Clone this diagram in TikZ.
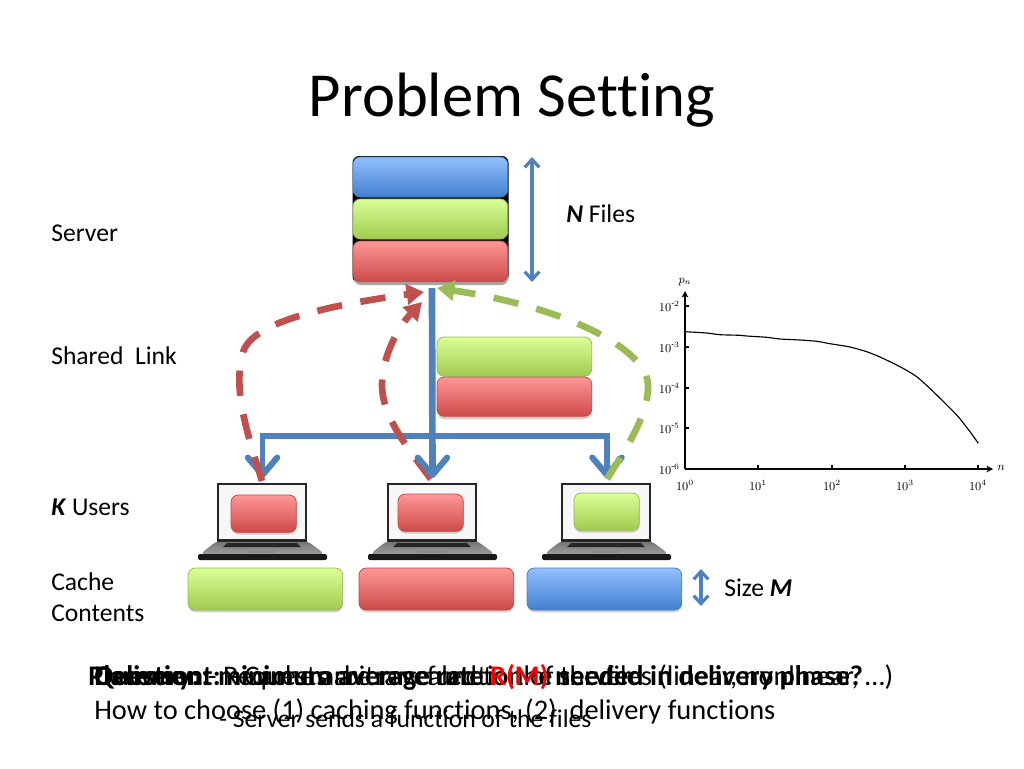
\documentclass[tikz,border=0pt]{standalone}
\usepackage{fontspec}
\setmainfont[Ligatures=NoCommon]{Carlito}
\usetikzlibrary{arrows.meta}
\definecolor{rbA}{HTML}{FF9797}\definecolor{rbB}{HTML}{CD4A48}\definecolor{rbL}{HTML}{BE4B48}
\definecolor{gbA}{HTML}{D9FF97}\definecolor{gbB}{HTML}{A0CB4E}\definecolor{gbL}{HTML}{98B954}
\definecolor{bbA}{HTML}{93BFFF}\definecolor{bbB}{HTML}{4180CF}\definecolor{bbL}{HTML}{4A7EBB}
\definecolor{linkB}{HTML}{4F81BD}\definecolor{dashR}{HTML}{C0504D}\definecolor{dashG}{HTML}{9BBB59}
\tikzset{
 x=0.75pt,y=-0.75pt,
 box/.style={rectangle,rounded corners=5.5pt,anchor=north west,inner sep=0pt,outer sep=0pt,line width=.6pt},
 redbox/.style={box,draw=rbL,top color=rbA,bottom color=rbB},
 greenbox/.style={box,draw=gbL,top color=gbA,bottom color=gbB},
 bluebox/.style={box,draw=bbL,top color=bbA,bottom color=bbB},
 shade/.style={rectangle,rounded corners=5.5pt,anchor=north west,inner sep=0pt,fill=black!30,opacity=.6},
 lab/.style={anchor=base west,inner sep=0pt,font=\fontsize{19.2}{22}\selectfont},
 bot/.style={anchor=base west,inner sep=0pt,font=\fontsize{21.3}{24}\selectfont},
 botsmall/.style={anchor=base west,inner sep=0pt,font=\fontsize{19.2}{22}\selectfont},
 tick/.style={inner sep=0pt,font=\fontsize{9}{10}\selectfont},
 link/.style={draw=linkB,line width=4.2pt},
 trunkline/.style={draw=linkB,line width=5pt},
 linkhead/.style={-{Straight Barb[length=13pt,width=22pt,line width=4.6pt,round]}},
 dashr/.style={draw=dashR,line width=5pt,dash pattern=on 19pt off 14pt,-{Triangle[length=13pt,width=15pt]}},
 dashg/.style={draw=dashG,line width=5pt,dash pattern=on 19pt off 14pt,-{Triangle[length=13pt,width=15pt]}},
 sized/.style={draw=linkB,line width=2.4pt,{Straight Barb[length=6pt,width=11pt,line width=2.4pt]}-{Straight Barb[length=6pt,width=11pt,line width=2.4pt]}},
 axis/.style={draw=black,line width=.9pt,-{Stealth[length=5pt,width=5pt]}},
 laptop/.pic={
  \shade[top color=black!80,bottom color=black!50] (0,56) -- (88,56) -- (108,71) -- (-19,71) -- cycle;
  \fill[black!85] (9,59) -- (79,59) -- (83,63) -- (5,63) -- cycle;
  \fill[black!90,rounded corners=1.5pt] (-20,70) rectangle (109,76);
  \fill[black!45] (30,65) rectangle (58,69);
  \draw[draw=black!85,fill=black!3,line width=2pt] (0,0) rectangle (88,56.5);
 }
}
\begin{document}
\begin{tikzpicture}
\useasboundingbox (0,0) rectangle (1024,768);
\fill[white] (0,0) rectangle (1024,768);
\node[anchor=base,inner sep=0pt,font=\fontsize{47}{50}\selectfont] (title) at (512,116) {Problem Setting};

% labels
\node[lab] (lserver) at (51,241) {Server};
\node[lab] (lshared) at (51,364) {Shared\ \ Link};
\node[lab] (lusers) at (51,515) {\textbf{\textit{K}} Users};
\node[lab] (lcache) at (51,590) {Cache};
\node[lab] (lcont) at (51,621) {Contents};
\node[lab] (lfiles) at (566,222) {\textbf{\textit{N}} Files};
\node[lab] (lsize) at (724,596) {Size \textbf{\textit{M}}};

% server stack
\fill[black,rounded corners=5pt] (352.5,156) rectangle (508.5,283);
\fill[black!35,rounded corners=5pt] (354,243) rectangle (508,285);
\node[bluebox,minimum width=116pt,minimum height=30pt] (sb) at (353,157) {};
\node[greenbox,minimum width=116pt,minimum height=30pt] (sg) at (353,199) {};
\node[redbox,minimum width=116pt,minimum height=30.5pt] (sr) at (353,241) {};
\coordinate (narrowt) at (532,157);\coordinate (narrowb) at (532,282);
\draw[sized] (narrowt) -- (narrowb);

% shared link
\node[shade,minimum width=116pt,minimum height=30pt] at (437,379) {};
\node[greenbox,minimum width=116pt,minimum height=29.5pt] (lg) at (437,337) {};
\node[redbox,minimum width=116pt,minimum height=29.5pt] (lr) at (437,377) {};

% laptops
\pic at (218,484) {laptop};
\pic at (388,484) {laptop};
\pic at (562,484) {laptop};
\node[shade,minimum width=49pt,minimum height=28pt] at (231,497) {};
\node[redbox,minimum width=49pt,minimum height=28pt] (u1) at (231,495) {};
\node[shade,minimum width=49pt,minimum height=28pt] at (398,496) {};
\node[redbox,minimum width=49pt,minimum height=28pt] (u2) at (398,494) {};
\node[shade,minimum width=49pt,minimum height=28pt] at (574,495) {};
\node[greenbox,minimum width=49pt,minimum height=28pt] (u3) at (574,493) {};

% cache
\node[shade,minimum width=116pt,minimum height=31.5pt] at (188,570) {};
\node[greenbox,minimum width=116pt,minimum height=31.5pt] (c1) at (188,568) {};
\node[shade,minimum width=116pt,minimum height=31.5pt] at (359,570) {};
\node[redbox,minimum width=116pt,minimum height=31.5pt] (c2) at (359,568) {};
\node[shade,minimum width=116pt,minimum height=31.5pt] at (527,570) {};
\node[bluebox,minimum width=116pt,minimum height=31.5pt] (c3) at (527,568) {};
\coordinate (st) at (701,569);\coordinate (sb2) at (701,606);
\draw[sized] (st) -- (sb2);

% blue links, left and right
\coordinate (trunk) at (432,288);
\coordinate (junc) at (432,436);
\coordinate (hl) at (262.5,436);\coordinate (hr) at (607,436);
\coordinate (tl) at (262.5,478);\coordinate (tm) at (432.5,478);\coordinate (tr) at (607,478);
\draw[link,linkhead] (junc) -- (hl) -- (tl);
\draw[link,linkhead] (junc) -- (hr) -- (tr);

% dashed feedback
\coordinate (dl) at (262,481);\coordinate (dm) at (431,479);\coordinate (dr) at (607,479);
\coordinate (ahl) at (424,292);\coordinate (ahm) at (422,302);\coordinate (ahr) at (437,288);
\coordinate (ml) at (243,352);\coordinate (mm) at (382,385);\coordinate (mr) at (648,385);
\draw[dashr] (dl) .. controls (248,435) and (232,390) .. (ml) .. controls (252,325) and (310,308) .. (ahl);
\draw[dashr] (dm) .. controls (405,445) and (382,415) .. (mm) .. controls (382,355) and (400,325) .. (ahm);
\draw[dashg] (dr) .. controls (625,450) and (649,415) .. (mr) .. controls (647,350) and (570,308) .. (ahr);
\draw[trunkline,linkhead] (trunk) -- (tm);

% plot
\coordinate (o) at (685,469);\coordinate (xe) at (993,469);\coordinate (ye) at (685,291);
\draw[axis] (o) -- (xe);
\draw[axis] (o) -- (ye);
\foreach \x/\e in {685/0,758/1,832/2,905/3,978/4}{
  \draw[line width=.8pt] (\x,465) -- (\x,469);
  \node[tick] (xt\e) at (\x,485) {$10^{\e}$};
}
\foreach \y/\e in {469/6,428/5,388/4,347/3,306/2}{
  \draw[line width=.8pt] (685,\y) -- (689,\y);
  \node[tick,anchor=east] (yt\e) at (680,\y) {$10^{\mbox{\scriptsize -}\e}$};
}
\node[tick] (xl) at (1001,468) {$n$};
\node[tick] (yl) at (685,282) {$p_n$};
\draw[line width=.85pt,line join=round] plot[smooth,tension=.4] coordinates {(685,331.7) (706.7,333) (720,334.7) (740,335.3) (746.7,336) (766.7,337.3) (780,339) (800,340) (816.7,341.3) (830,343.7) (850,347) (866.7,351.7) (880,357) (900,366.7) (916.7,376.7) (933.3,391.7) (956.7,415) (970,431.7) (978.3,443.3)};

% bottom text
\node[bot] (placement) at (88,685) {\textbf{Placement:} - Cache arbitrary function of the files (linear, nonlinear, …)};
\node[bot] (delivery) at (94,685) {\textbf{Delivery:} - Requests are revealed to the server};
\node[bot] (question) at (94,685) {\textbf{Question: minimum average rate \textcolor{red}{R(M)} needed in delivery phase?}};
\node[bot] (how) at (94,719) {How to choose (1) caching functions, (2)\ \ delivery functions};
\node[botsmall] (sends) at (219,727) {- Server sends a function of the files};
\end{tikzpicture}
\end{document}
